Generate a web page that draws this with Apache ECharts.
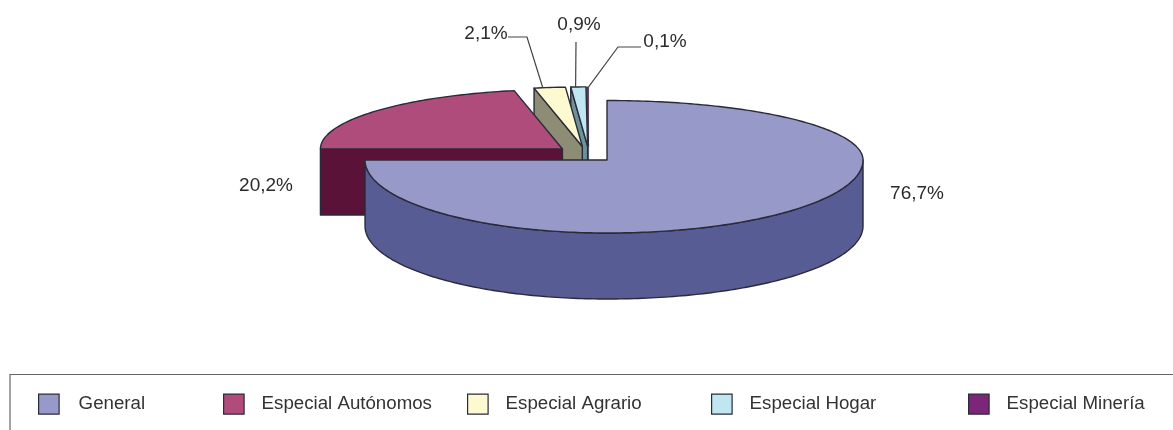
<!DOCTYPE html>
<html><head><meta charset="utf-8">
<style>html,body{margin:0;padding:0;background:#fff}#c{width:1173px;height:430px}</style>
<script src="https://cdn.jsdelivr.net/npm/echarts@6/dist/echarts.min.js"></script>
</head><body><div id="c"></div>
<script>
const categories = ['General','Especial Autónomos','Especial Agrario','Especial Hogar','Especial Minería'];
const values = [76.7,20.2,2.1,0.9,0.1];
const topColors = ['#9799c9','#b04c7c','#fdf9d1','#bfe6f1','#7b2678'];
const sideColors = ['#585c94','#5b1238','#8d8d76','#6c9199','#6c9199'];
const legendLefts = [38,223,467,711,968];
const legendTextGap = [14.5,12.5,12.5,12.5,12.5];

// label layout: text anchor, and where along the slice's rim the leader lands (null = no leader)
const labelPos = [[917,194],[266,186],[486,34],[579,25],[665,42]];
const leaderElbow = [null,null,[[508,37],[527,37]],[[576,42]],[[641,47],[618,47]]];
const leaderFrac = [0,0,0.28,0.32,1];

// "3D" view of the pie
const pieCenter = [586.3,154.2], explode = [31,7.8];
const apexNudgeX = [0,-1,0,2.4,2.4];
const sliceLine = [1.4,1.4,1.4,1.4,0.6];
const radiusRight = 256, radiusLeft = 242, radiusUp = 59.5, radiusDown = 73, depth = 66;
const viewAngleAnchors = [[0,0],[180,180],[276.12,270],[348.84,348.5],[356.4,356],[360,360]];

const total = values.reduce((a,b)=>a+b,0);
const starts = []; values.reduce((acc,v,i)=>{starts[i]=acc;return acc+v/total*360;},0);
const rad = d => d*Math.PI/180;
function viewAngle(t){
  for(let i=1;i<viewAngleAnchors.length;i++){
    const [a0,b0]=viewAngleAnchors[i-1],[a1,b1]=viewAngleAnchors[i];
    if(t<=a1) return b0+(t-a0)*(b1-b0)/(a1-a0);
  }
  return t;
}
function apexOf(i){
  const mid = rad(starts[i]+values[i]/total*180);
  return [pieCenter[0]+Math.sin(mid)*explode[0]+apexNudgeX[i], pieCenter[1]-Math.cos(mid)*explode[1]];
}
function rim(ap,vt,dy){
  const s=Math.sin(rad(vt)),c=Math.cos(rad(vt));
  return [ap[0]+s*(s>0?radiusRight:radiusLeft), ap[1]-c*(c>0?radiusUp:radiusDown)+(dy||0)];
}
function arcPts(ap,a,b,dy){
  const n=Math.max(2,Math.ceil(Math.abs(b-a)));const out=[];
  for(let k=0;k<=n;k++) out.push(rim(ap,a+(b-a)*k/n,dy));
  return out;
}
const LINE='#2b2a38';
function renderSlice(i){
  const val=values[i];
  const t0=starts[i], t1=t0+val/total*360;
  const a=viewAngle(t0), b=viewAngle(t1);
  const ap=apexOf(i);
  const kids=[];
  const poly=(points,fill)=>kids.push({type:'polygon',shape:{points},style:{fill,stroke:LINE,lineWidth:sliceLine[i],lineJoin:'round'}});
  // outer wall (front half only)
  const wa=Math.max(a,90), wb=Math.min(b,270);
  if(wb>wa){
    const upper=arcPts(ap,wa,wb,0), lower=arcPts(ap,wb,wa,depth);
    poly(upper.concat(lower),sideColors[i]);
  }
  // face along the start edge (hidden for the first slice)
  if(i>0){
    const e=rim(ap,a,0);
    poly([ap,e,[e[0],e[1]+depth],[ap[0],ap[1]+depth]],sideColors[i]);
  }
  // top
  poly([ap].concat(arcPts(ap,a,b,0)),topColors[i]);
  // leader + label
  if(leaderElbow[i]){
    const end=rim(ap,a+(b-a)*leaderFrac[i],0);
    kids.push({type:'polyline',shape:{points:leaderElbow[i].concat([end])},style:{fill:null,stroke:'#444',lineWidth:1.2}});
  }
  kids.push({type:'text',z2:20,style:{x:labelPos[i][0],y:labelPos[i][1],text:val.toFixed(1).replace('.',',')+'%',
    fill:'#2b2b2b',font:'19px "Liberation Sans"',align:'center',verticalAlign:'middle'}});
  return {type:'group',children:kids};
}
const drawOrder=[4,3,2,1,0];
const series=drawOrder.map(i=>({
  type:'custom',name:categories[i],coordinateSystem:'none',silent:true,animation:false,clip:false,
  itemStyle:{color:topColors[i]},
  data:[[values[i]]],
  renderItem:()=>renderSlice(i)
}));
const legend=categories.map((n,i)=>({
  data:[{name:n,icon:'rect',itemStyle:{color:topColors[i],borderColor:'#2b2a38',borderWidth:1.2}}],
  left:legendLefts[i],top:393.5,itemWidth:20.5,itemHeight:20,selectedMode:false,padding:0,
  textStyle:{color:'#333',fontFamily:'Liberation Sans',fontSize:18.7,padding:[9,0,0,legendTextGap[i]]}
}));
const chart=echarts.init(document.getElementById('c'),null,{renderer:'canvas'});
chart.setOption({
  animation:false,backgroundColor:'#fff',
  legend,series,
  graphic:[{type:'polyline',silent:true,shape:{points:[[1180,374.5],[10,374.5],[10,440]]},style:{fill:null,stroke:'#666',lineWidth:1.2}}]
});
</script></body></html>
